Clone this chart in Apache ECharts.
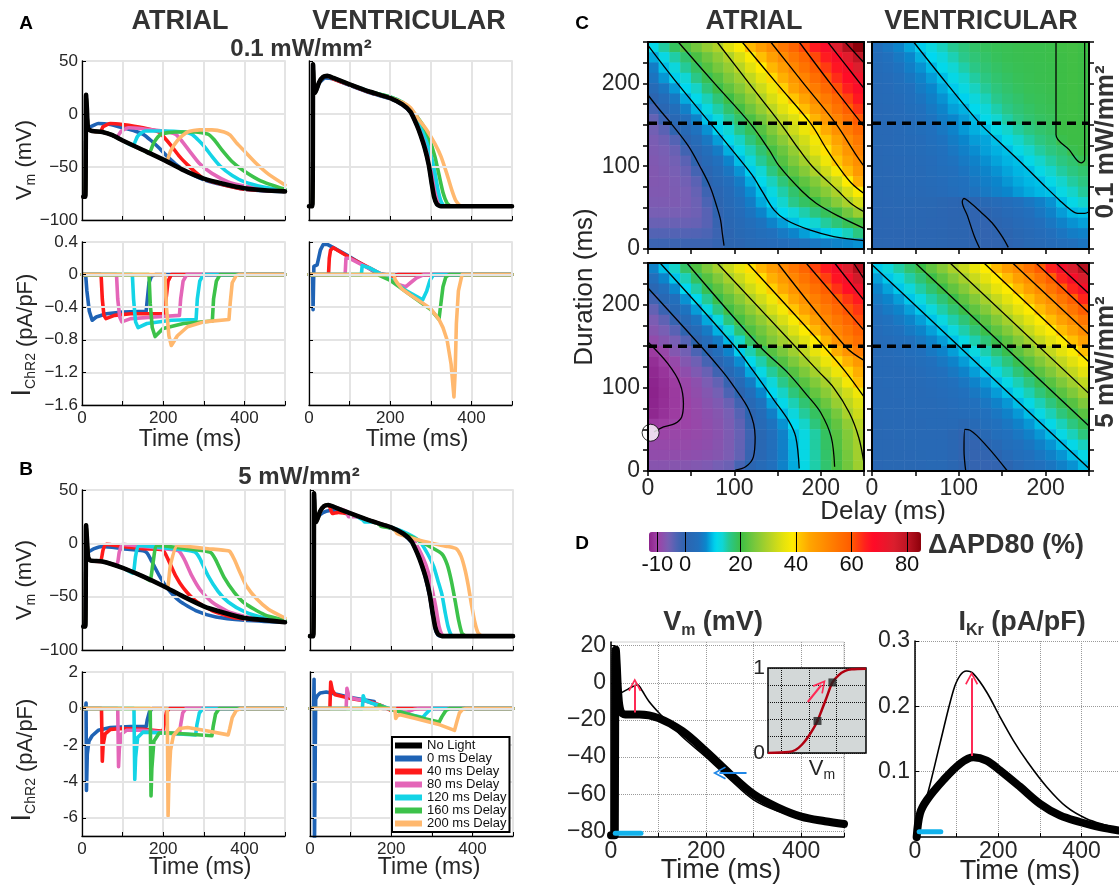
<!DOCTYPE html>
<html><head><meta charset="utf-8"><title>ChR2 APD</title>
<script src="https://cdn.jsdelivr.net/npm/echarts@6/dist/echarts.min.js"></script>
<style>html,body{margin:0;padding:0;background:#fff;}#chart{width:1119px;height:888px;}</style>
</head><body><div id="chart"></div>
<script>
// ================= DATA =================
const legendNames = ['No Light','0 ms Delay','40 ms Delay','80 ms Delay','120 ms Delay','160 ms Delay','200 ms Delay'];

// ---- Panel A: 0.1 mW/mm2 ----
const aVm01Black = [[3,-78],[8,-78],[10,18],[12,5],[15,-14],[25,-16],[50,-17],[75,-20],[100,-25],[150,-34],[200,-43],[250,-53],[300,-61],[350,-66],[400,-70],[450,-72],[500,-73]];
const aVm01Tails = [
 [[12,2],[15,-12],[20,-12],[40,-9],[70,-10],[100,-13],[130,-16],[150,-19],[170,-25],[190,-32],[210,-40],[230,-47],[260,-55],[300,-62],[350,-67],[400,-71],[450,-72.5],[500,-73]],
 [[45,-17],[52,-12],[70,-9],[100,-10],[150,-13],[190,-17],[200,-21],[220,-30],[240,-40],[260,-48],[280,-55],[300,-61],[350,-67],[400,-71],[500,-73]],
 [[85,-22],[97,-16],[115,-13],[150,-14],[200,-16],[230,-19],[245,-25],[265,-35],[290,-47],[320,-56],[360,-64],[400,-68],[450,-71],[500,-73]],
 [[125,-30],[137,-21],[155,-16],[200,-16],[250,-17],[270,-19],[285,-24],[300,-30],[320,-40],[340,-49],[370,-58],[400,-64],[450,-69],[500,-72]],
 [[165,-37],[177,-27],[195,-19],[230,-17],[280,-17],[310,-19],[325,-24],[345,-34],[370,-45],[400,-54],[440,-63],[500,-71]],
 [[208,-45],[218,-35],[237,-24],[260,-17],[290,-15],[320,-15],[350,-17],[365,-20],[380,-27],[400,-35],[430,-47],[460,-57],[500,-67]]
];
const aChR01 = [
 [[0,0],[9,0],[12,-0.2],[18,-0.45],[25,-0.56],[35,-0.52],[60,-0.48],[100,-0.46],[158,-0.45],[161,-0.3],[165,-0.1],[171,-0.02],[180,0],[500,0]],
 [[0,0],[47,0],[50,-0.3],[54,-0.5],[59,-0.54],[80,-0.5],[120,-0.48],[204,-0.48],[207,-0.3],[212,-0.08],[220,0],[500,0]],
 [[0,0],[85,0],[88,-0.3],[93,-0.52],[98,-0.58],[120,-0.54],[180,-0.52],[240,-0.5],[243,-0.3],[249,-0.08],[258,0],[500,0]],
 [[0,0],[124,0],[127,-0.3],[132,-0.58],[138,-0.65],[160,-0.6],[220,-0.56],[281,-0.55],[284,-0.3],[290,-0.08],[299,0],[500,0]],
 [[0,0],[165,0],[168,-0.35],[173,-0.65],[180,-0.76],[200,-0.66],[250,-0.6],[321,-0.57],[324,-0.3],[331,-0.08],[340,0],[500,0]],
 [[0,0],[204,0],[208,-0.4],[214,-0.75],[220,-0.87],[235,-0.75],[260,-0.64],[300,-0.58],[362,-0.55],[365,-0.35],[370,-0.1],[380,-0.01],[388,0],[500,0]]
];
const vVm01Black = [[0,-87],[8,-87],[10,47],[12,25],[15,20],[25,30],[35,35],[45,36],[60,34],[100,28],[150,21],[200,15],[230,9],[250,2],[265,-10],[275,-20],[285,-32],[295,-48],[302,-65],[308,-78],[315,-85],[325,-87],[500,-87]];
const vVm01Tails = [
 [[15,20],[25,29],[40,34],[60,33],[100,27],[150,20],[200,14.5],[230,8.5],[250,1.5],[265,-10],[275,-20],[285,-32],[295,-48],[302,-65],[308,-78],[315,-85],[325,-87],[500,-87]],
 [[50,35],[60,33],[100,27.5],[150,20.5],[200,15],[230,9],[250,2.5],[267,-10],[278,-20],[288,-32],[297,-48],[304,-65],[310,-78],[317,-85],[327,-87],[500,-87]],
 [[90,29],[100,28],[150,21],[200,15.5],[230,10],[250,3],[270,-10],[285,-25],[295,-38],[305,-58],[312,-75],[320,-84],[330,-87],[500,-87]],
 [[130,24],[150,21],[200,16],[230,11],[250,4],[275,-10],[290,-24],[300,-38],[310,-55],[318,-72],[326,-83],[335,-87],[500,-87]],
 [[170,19],[200,16],[230,11],[250,5],[280,-10],[295,-22],[310,-40],[320,-57],[330,-74],[340,-84],[350,-87],[500,-87]],
 [[210,14],[230,11],[250,6],[270,-5],[290,-15],[310,-28],[325,-40],[340,-57],[352,-72],[362,-82],[375,-87],[500,-87]]
];
const vChR01 = [
 [[0,0],[9,0],[10,-0.43],[12,0.1],[20,0.12],[28,0.3],[35,0.37],[45,0.37],[60,0.33],[100,0.22],[140,0.1],[160,0.04],[175,0.01],[190,0],[500,0]],
 [[0,0],[48,0],[50,0.2],[53,0.3],[60,0.33],[100,0.21],[150,0.08],[180,0],[200,-0.03],[210,-0.01],[220,0],[500,0]],
 [[0,0],[89,0],[91,0.2],[100,0.2],[150,0.07],[180,0],[220,-0.12],[238,-0.15],[250,-0.1],[265,-0.04],[283,0],[500,0]],
 [[0,0],[129,0],[131,0.11],[150,0.08],[180,0],[200,-0.05],[240,-0.2],[280,-0.31],[290,-0.2],[298,-0.07],[307,0],[500,0]],
 [[0,0],[169,0],[171,0.02],[200,-0.07],[250,-0.25],[300,-0.43],[320,-0.55],[325,-0.35],[330,-0.15],[337,-0.03],[345,0],[500,0]],
 [[0,0],[209,0],[212,-0.06],[217,-0.1],[230,-0.18],[250,-0.25],[280,-0.35],[300,-0.42],[320,-0.55],[330,-0.65],[340,-0.8],[350,-1.1],[357,-1.5],[360,-1.2],[363,-0.6],[368,-0.2],[377,0],[500,0]]
];

// ---- Panel B: 5 mW/mm2 ----
const aVm5Black = [[3,-78],[8,-78],[10,17],[12,5],[15,-13],[20,-16],[50,-17],[100,-23],[150,-31],[200,-40],[250,-50],[300,-59],[350,-65],[400,-70],[450,-72],[500,-74]];
const aVm5Tails = [
 [[12,0],[15,-8],[30,-5],[50,-3],[100,-5],[150,-7],[160,-9],[172,-17],[190,-30],[210,-42],[240,-54],[280,-63],[330,-69],[400,-72],[500,-74]],
 [[45,-17],[52,-6],[60,-1],[100,-3],[150,-5],[198,-6],[212,-15],[230,-30],[250,-42],[280,-54],[320,-63],[380,-70],[500,-73]],
 [[85,-20],[92,-8],[100,-1],[150,-3],[200,-5],[238,-7],[252,-15],[270,-30],[292,-44],[320,-55],[360,-64],[420,-70],[500,-73]],
 [[125,-28],[132,-12],[140,-2],[200,-4],[250,-6],[278,-8],[290,-14],[310,-30],[335,-45],[360,-55],[400,-64],[450,-70],[500,-73]],
 [[167,-35],[175,-18],[185,-2],[240,-4],[300,-7],[318,-9],[330,-16],[350,-32],[375,-46],[400,-56],[450,-67],[500,-72]],
 [[210,-42],[218,-20],[235,-2],[260,-3],[310,-5],[360,-7],[365,-8],[375,-15],[390,-28],[405,-40],[430,-52],[460,-62],[500,-70]]
];
const aChR5 = [
 [[0,0],[9,0],[10,0.3],[11,-4.5],[13,-2.5],[17,-1.8],[25,-1.5],[40,-1.2],[70,-1.05],[120,-1.0],[158,-1.0],[161,-0.6],[166,-0.2],[173,0],[500,0]],
 [[0,0],[48,0],[50,-2.9],[52,-2.0],[57,-1.4],[70,-1.15],[100,-1.1],[150,-1.15],[200,-1.25],[203,-0.8],[208,-0.2],[215,0],[500,0]],
 [[0,0],[88,0],[90,-3.2],[92,-2.2],[97,-1.4],[110,-1.2],[150,-1.2],[200,-1.3],[240,-1.4],[243,-0.9],[248,-0.25],[256,0],[500,0]],
 [[0,0],[128,0],[130,-3.9],[132,-2.7],[137,-1.6],[150,-1.3],[200,-1.35],[280,-1.45],[283,-0.9],[289,-0.25],[298,0],[500,0]],
 [[0,0],[168,0],[170,-4.8],[172,-3.3],[177,-1.8],[190,-1.35],[220,-1.35],[320,-1.5],[323,-1.0],[329,-0.3],[338,0],[500,0]],
 [[0,0],[210,0],[212,-5.9],[214,-4.0],[218,-2.3],[225,-1.5],[240,-1.1],[260,-1.05],[300,-1.2],[360,-1.45],[364,-1.1],[370,-0.5],[380,-0.1],[392,0],[500,0]]
];
const vVm5Black = [[0,-87],[8,-87],[10,47],[12,25],[15,20],[25,30],[35,35],[45,36],[60,34],[100,28],[150,21],[200,15],[230,9],[250,2],[265,-10],[275,-20],[285,-32],[295,-48],[302,-65],[308,-78],[315,-85],[325,-87],[500,-87]];
const vVm5Tails = [
 [[12,30],[15,22],[25,27],[40,30],[60,31],[100,27],[150,21],[200,14],[230,8],[250,1],[265,-10],[275,-20],[285,-33],[295,-50],[302,-67],[308,-80],[315,-86],[325,-87],[500,-87]],
 [[50,33],[55,28],[70,29],[100,27],[150,21],[200,15],[235,8],[255,0],[270,-12],[282,-25],[292,-42],[300,-60],[308,-75],[316,-85],[328,-87],[500,-87]],
 [[90,30],[95,25],[110,25],[150,21],[200,15],[240,8],[260,0],[280,-15],[292,-28],[302,-45],[310,-60],[318,-78],[326,-86],[338,-87],[500,-87]],
 [[130,22],[135,20],[150,20],[200,15],[240,9],[270,2],[290,-10],[305,-22],[315,-35],[325,-48],[333,-65],[340,-78],[348,-86],[358,-87],[500,-87]],
 [[170,18],[175,16],[200,14],[250,6],[300,-4],[325,-10],[338,-20],[348,-35],[358,-55],[366,-72],[374,-84],[385,-87],[500,-87]],
 [[210,12],[215,9],[250,5],[300,0],[340,-3],[360,-5],[372,-12],[382,-25],[390,-40],[398,-58],[406,-74],[414,-84],[425,-87],[500,-87]]
];
const vChR5 = [
 [[0,0],[9,0],[10,1.6],[11,-7.5],[13,-7.5],[14,0.5],[18,0.7],[25,0.85],[40,0.9],[60,0.8],[100,0.6],[140,0.45],[158,0.38],[162,0.15],[170,0.02],[180,0],[500,0]],
 [[0,0],[49,0],[51,1.45],[55,1.0],[62,0.75],[80,0.65],[100,0.55],[150,0.35],[180,0.12],[198,-0.1],[205,-0.03],[215,0],[500,0]],
 [[0,0],[89,0],[91,1.1],[95,0.75],[105,0.55],[130,0.45],[160,0.25],[190,0.0],[215,-0.15],[238,-0.25],[245,-0.15],[258,-0.04],[270,0],[500,0]],
 [[0,0],[129,0],[131,0.7],[135,0.45],[150,0.3],[170,0.18],[195,0.0],[240,-0.3],[278,-0.5],[285,-0.3],[295,-0.08],[305,0],[500,0]],
 [[0,0],[169,0],[171,0.2],[176,0.1],[195,-0.02],[240,-0.3],[280,-0.55],[318,-0.75],[325,-0.45],[335,-0.1],[345,0],[500,0]],
 [[0,0],[209,0],[211,-0.55],[215,-0.4],[222,-0.35],[260,-0.55],[320,-0.9],[356,-1.2],[362,-0.7],[368,-0.25],[376,-0.05],[385,0],[500,0]]
];
const chr5Ticks = [-6,-4,-2,0,2];

// ---- Panel C: dAPD80 maps (rows from Duration 244 down to 6; columns Delay 6..244, step 12.5 ms) ----
const hmA01 = [
 [11.7,15.3,18.6,21.8,24.6,27.5,30,34.8,38.6,42.7,46.4,50.3,54,57.9,61.5,65.5,69,75,81,85],
 [9,12.2,15.1,17.8,21.2,24.2,27,30,34,38.3,42,46.3,50,54,57.6,61.5,65.5,69.4,74,79.5],
 [6.5,9.9,12.8,15.6,18.5,21.9,24.8,27.6,30.9,35,39,43,46.6,51,55,59,62.6,66.4,70,75],
 [5.5,8.2,10.6,13.5,16.3,19.3,22.2,25.4,28.3,31.8,35.7,40,43.8,47.8,51.8,56,60,63.8,67.7,71],
 [2.8,5.7,8.3,11.2,14,17,19.9,23,26,29.3,32.9,36.8,40.6,45.4,49.6,53.2,57,61,65,69],
 [0.5,3.4,6,9,11.6,14.5,17.3,20.1,23.3,26.8,30,34,37.6,41.5,45.5,50,53.7,57.5,62,66],
 [-2.3,1.3,4,6.8,9.5,12.3,15,17.9,20.7,24.2,27.5,31.2,35,38.5,42.3,46.7,50.7,55,59,63],
 [-4.6,-1.4,1.7,4.4,7.2,10,12.7,15.4,18.1,21.2,24.5,28.2,31.7,34.6,38.8,43.3,47.5,51.7,55.7,60],
 [-5.6,-4,-0.3,2.5,5.2,8,10.7,13.5,16.2,19,22.1,25.7,29.3,33,36.5,40.2,44.4,49,53.2,57],
 [-6.2,-5.3,-3.5,0.4,3.1,5.9,8.5,11.3,14,16.9,19.7,23.3,26.6,30.3,33.5,37.4,41.2,45.5,50,54],
 [-6.5,-6,-4.9,-2,1.3,3.9,6.4,9.2,11.9,14.6,17.5,20.8,23.9,27.4,31.6,35.6,39.5,43.4,48,52],
 [-6.8,-6.3,-5.6,-4,-0.3,2.4,4.8,7.3,9.8,12.8,15.6,18.6,22.1,25.5,28.8,32.3,36.9,41.2,45.2,49.5],
 [-7,-6.5,-6,-4.9,-2.3,1.1,3.3,5.7,8.1,10.5,13.5,16.6,19.8,23,26.2,29.5,33.3,37.9,42.5,47.5],
 [-7,-6.8,-6.3,-5.5,-4,0,2,4.2,6.4,9.1,11.4,14.3,17.1,20.1,22.9,25.9,29.4,32.9,38.8,44],
 [-6.8,-6.8,-6.4,-6,-4.7,-1.7,1,3.2,5.5,7.8,9.9,12.4,15,17.8,20.4,23.6,26.4,29.5,33.9,38.5],
 [-6.5,-6.5,-6.5,-6.1,-5.2,-3,0.4,2.4,4.4,6.5,8.9,10.7,13.7,16.1,18.4,20,23.1,26.3,29.3,33.5],
 [-6,-6,-6,-5.8,-5.3,-3.8,-0.3,1.7,3.6,5.5,7.3,9.2,11,13.1,14.9,16.8,18.9,20.8,24.4,28.1],
 [-5,-5,-5,-5,-4.8,-3.8,-1,1.2,2.6,4,5.4,7.1,8.5,10,11.8,13.6,15.4,17.2,19.1,21],
 [-3.5,-3.5,-3.5,-3.5,-3.4,-3,-1.4,0.7,1.8,2.8,3.9,5,6.1,7.3,8.5,9.6,10.6,12.2,14.3,16.6],
 [-1.5,-1.5,-1.5,-1.5,-1.5,-1.5,-0.8,0.5,1.1,1.8,2.5,3.2,3.8,4.5,5.2,5.8,6.5,7.1,7.6,8]
];
const hmV01 = [
 [4.5,5.8,7.2,8.8,10.5,12.6,14.3,15.8,17,18,18.7,19.1,19.3,19.5,19.6,19.6,19.7,20.3,20.6,20.2],
 [3.8,4.8,6,7.5,9.2,11,12.9,14.6,16.1,17.3,18.1,18.8,19.2,19.4,19.5,19.6,19.7,20.2,20.5,20.1],
 [3.3,4.2,5.3,6.6,8,9.6,11.5,13.5,15,16.4,17.5,18.3,18.9,19.2,19.4,19.5,19.6,20.1,20.4,20.1],
 [2.9,3.6,4.6,5.7,7,8.4,9.9,12,13.8,15.3,16.6,17.7,18.4,19,19.3,19.5,19.6,20.1,20.4,20.1],
 [2.6,3.2,4,5,6.2,7.5,8.9,10.4,12.4,14.2,15.6,17,17.9,18.6,19.1,19.3,19.5,20.1,20.4,20.1],
 [2.4,2.9,3.6,4.4,5.5,6.7,8,9.4,10.7,12.9,14.4,16,17.2,18,18.8,19.1,19.4,20.1,20.4,20.1],
 [2.2,2.6,3.2,4,4.9,6,7.2,8.6,9.3,11.3,13.2,14.9,16.3,17.4,18.2,18.9,19.2,20.05,20.35,20.1],
 [2,2.4,2.9,3.6,4.4,5.4,6.5,7.5,8.4,9.7,11.7,13.6,15.1,16.5,17.6,18.4,18.9,20.05,20.3,20.1],
 [1.9,2.2,2.7,3.3,4,4.9,5.9,7.1,8.3,9.2,9.9,12,13.8,15.3,16.6,17.7,18.4,20,20.2,20.05],
 [1.8,2,2.5,3,3.6,4.4,5.3,6.4,7.5,8.4,8.8,9.9,11.9,13.8,15.2,16.6,17.7,19.6,20.1,20.05],
 [1.7,1.9,2.3,2.8,3.3,4,4.8,5.8,6.8,7.8,8.6,9.3,9.9,12,13.8,15.3,16.6,17.7,19.5,20],
 [1.6,1.8,2.1,2.5,3,3.6,4.4,5.2,6.1,7,7.9,8.7,9.4,9.9,11.9,13.8,15.2,16.6,17.7,19.2],
 [1.5,1.7,2,2.3,2.7,3.3,4,4.7,5.5,6.4,7.2,8,8.8,9.5,9.9,12,13.8,15.3,16.6,17.7],
 [1.4,1.6,1.8,2.1,2.5,3,3.6,4.3,5,5.8,6.6,7.4,8.2,9,9.6,10,11.9,13.8,15.3,16.6],
 [1.3,1.5,1.7,1.9,2.2,2.7,3.2,3.8,4.5,5.2,6,6.8,7.5,8.3,9,9.6,10,12.2,13.9,15.5],
 [1.2,1.3,1.4,1.5,1.5,1.4,1.2,1,0.6,1,1.8,2.8,3.8,4.8,5.8,6.8,8,9.9,11.9,13.8],
 [1.1,1.2,1.3,1.3,1.3,1.2,1,0.7,0.3,-0.3,0.2,1.3,2.4,3.5,4.6,5.8,7,8.4,9.6,10],
 [1,1.1,1.2,1.2,1.2,1.1,0.9,0.6,0.3,-0.3,-0.4,0.3,1.3,2.4,3.5,4.6,5.8,7,8,8.6],
 [0.9,1,1.1,1.1,1.1,1,0.8,0.6,0.3,-0.2,-0.5,-0.2,0.6,1.6,2.6,3.6,4.6,5.6,6.5,7],
 [0.8,0.9,1,1,1,0.9,0.8,0.6,0.3,0,-0.4,-0.4,0.1,1,1.8,2.6,3.4,4.2,5,5.6]
];
const hmA5 = [
 [7,10,13.9,18.1,21.7,25.4,29,32.5,36,39.7,43.2,46.9,50.4,54.3,57.9,61.8,65.5,69.5,74.9,81],
 [4.4,7.4,10.2,14.5,18.4,22.2,25.6,29.2,32.6,36.3,39.8,43.7,47.3,51.2,54.8,58.6,62.3,66.6,70.3,76.9],
 [1.3,4.5,7.6,11.1,15.1,19.3,22.7,26.2,29.5,33.2,36.8,40.6,44.4,48.4,52,55.6,59.2,63.4,67.3,71.5],
 [-2,1.7,4.7,8,11.3,15.7,19.7,23.2,26.4,29.8,33.3,37.1,40.7,44.9,48.9,52.7,56.2,59.9,62.9,65.6],
 [-4.6,-1.3,2.1,5.4,8.4,12.3,16.4,20.5,23.6,27,30.2,34,37.6,41.4,45.7,50,53.5,57.1,60.5,63],
 [-6.3,-4.3,-1,2.5,5.6,8.9,12.6,17,20.8,24.1,27.2,30.5,34.1,38,41.9,46.5,50.8,54.3,57.7,61.1],
 [-7.3,-6,-3.9,-0.2,2.9,6.2,9.3,13.5,17.6,21.5,24.5,27.7,30.8,34.7,38.5,42.9,47.4,51.6,54.9,58.4],
 [-8.5,-7.2,-6,-3.6,0,3.4,6.4,9.7,13.8,18.3,22.4,25.6,28.6,31.3,35,38.9,43.3,48.4,52.5,55.8],
 [-10.6,-9.2,-7.1,-5.5,-3,0.8,3.9,7.3,10.5,14.7,18.7,22.2,25.2,28.4,31.7,35.7,39.4,44,48.4,53],
 [-11.8,-10.3,-9,-7,-5.3,-2.5,1.1,4.6,7.8,11.4,14.9,18.7,22,25.3,28.4,32.3,36.3,40,43.5,47.5],
 [-12.4,-11.2,-9.6,-8.2,-6.6,-4.9,-1.9,2,5.4,9,12.2,15.5,18.7,22.2,25.4,28.9,32.6,36.6,40.3,44],
 [-12.8,-11.8,-10.5,-9.3,-8,-6.3,-4.5,-1,2.6,6.4,9.8,13.1,16.1,19.3,22.4,25.8,29.1,32.5,37.5,42],
 [-13,-12,-10.7,-9.5,-8.4,-7.1,-5.7,-3,0.6,4.2,7.5,11,14,17,19.8,23.3,26.6,30,33.3,37],
 [-12.8,-11.8,-10.7,-9.7,-8.8,-7.6,-6.6,-4.9,-1.9,1.9,5.2,8.7,11.7,14.6,17.5,20.6,24,27.8,31.3,34.5],
 [-12.5,-11.5,-10.5,-9.8,-9,-8.1,-7.3,-5.9,-3.6,0.3,3.3,6.7,9.7,12.8,15.5,18.5,21.3,24.8,29.3,33],
 [-10.8,-10.4,-9.8,-9.6,-9.1,-8.3,-7.5,-6.2,-4.3,-0.6,2.4,5.4,8,11,13.9,17,20,23.2,27.2,31],
 [-9.6,-9.5,-9.3,-9.2,-8.9,-8.4,-7.7,-6.5,-4.8,-1.6,1.5,4.4,7,9.8,12.4,15.2,18.5,22.2,25.9,29.5],
 [-9,-9,-9,-8.9,-8.6,-8.2,-7.5,-6.4,-4.6,-1.3,1.6,4.3,6.8,9.4,12.2,15.3,18.3,21.8,25.5,29],
 [-8.5,-8.5,-8.4,-8.3,-8.1,-7.7,-7.2,-6.3,-4.5,-1,1.7,4.3,6.7,9.2,12.1,15.1,18,21.2,24.8,28.7],
 [-7.5,-7.5,-7.4,-7.3,-7,-6.6,-5.8,-5.1,-2.5,0.8,2.8,5,7,9,12.1,15,17.7,20.9,24.5,28.3]
];
const hmV5 = [
 [10.4,12.9,15.2,17.7,20,23.2,26.2,29.5,32.5,35.9,38.9,42.7,46.7,50.3,54.8,59.6,64.7,70.4,75.6,81],
 [8.6,10.3,12.6,15.1,17.4,19.9,22.9,26.1,29.1,32.5,35.5,38.9,42.3,46.2,49.9,54.7,59.1,64.6,69.8,75.5],
 [7.3,8.7,10.3,12.8,15.1,17.6,19.9,23.1,26.1,29.4,32.4,35.7,38.8,42.5,46.2,50.1,54.6,59.4,64.5,70.2],
 [6.1,7.3,8.5,10.2,12.5,15,17.3,19.8,22.8,26,29,32.3,35.4,38.7,42.1,46.1,49.7,54.5,58.9,64.4],
 [5.1,6.1,7.2,8.6,10.2,12.7,15,17.5,19.8,23,26,29.2,32.3,35.6,38.7,42.4,46,50,54.4,59.2],
 [4.2,5.1,6,7.2,8.5,10.1,12.4,14.9,17.2,19.7,22.6,25.9,28.9,32.2,35.3,38.6,42,45.9,49.6,54.3],
 [3.4,4.3,5.1,6.1,7.2,8.6,10.1,12.6,14.9,17.4,19.7,22.9,25.9,29.1,32.2,35.6,38.6,42.2,45.9,49.8],
 [3,3.4,4.2,5,5.9,7.1,8.4,10,12.3,14.8,17.1,19.6,22.5,25.8,28.8,32,35.1,38.5,41.8,45.8],
 [2.6,3,3.4,4.2,5,6,7.1,8.5,10,12.5,14.8,17.3,19.6,22.7,25.7,29,32,35.4,38.4,42.1],
 [2.4,2.6,3,3.4,4.1,5,5.9,7.1,8.4,10,12.2,14.7,17,19.5,22.4,25.7,28.7,31.9,35,38.3],
 [2.3,2.4,2.6,3,3.4,4.2,5,5.9,7.1,8.5,10,12.4,14.7,17.2,19.5,22.6,25.6,28.9,31.9,35.2],
 [2.1,2.3,2.4,2.6,3,3.4,4.1,4.9,5.8,7.1,8.3,9.9,12.1,14.6,16.9,19.4,22.3,25.5,28.5,31.8],
 [2,2.1,2.3,2.4,2.6,3,3.4,4.1,4.9,5.9,7,8.4,9.9,12.2,14.6,17.1,19.4,22.5,25.5,28.7],
 [1.9,2,2.1,2.3,2.4,2.6,2.9,3.4,4.1,4.9,5.8,7,8.2,9.8,12,14.5,16.8,19.4,22.2,25.5],
 [1.8,1.9,2,2.1,2.3,2.4,2.6,2.9,3.3,4,4.9,5.8,7,8.3,9.8,12.2,14.5,17,19.3,22.4],
 [1.7,1.8,1.9,2,2.1,2.3,2.4,2.3,1.6,2.6,4,4.9,5.8,7,8.2,9.8,11.9,14.4,16.7,19.2],
 [1.6,1.7,1.8,1.9,2,2.1,2.2,1.2,-0.3,0.3,1.8,4.1,4.9,5.8,6.9,8.2,9.7,12.1,14.4,16.9],
 [1.5,1.6,1.7,1.8,1.9,2,2,1.3,-0.4,-0.6,0.3,2.2,4,4.9,5.7,6.9,8.1,9.7,11.8,14.3],
 [1.4,1.5,1.6,1.7,1.8,1.9,1.9,1.3,-0.4,-0.7,-0.5,0.6,2.6,4,4.9,5.8,6.9,8.1,9.7,11.9],
 [1.3,1.4,1.5,1.6,1.7,1.8,1.8,1.2,-0.2,-0.7,-0.8,-0.6,0.5,2.4,4,4.9,5.7,6.9,8,9.6]
];
// contour lines [delay, duration]
const cA01 = [
 [[0,186],[12,170],[28,150],[47,124],[60,100],[72,75],[80,50],[84,35],[86,19],[88,4]],
 [[0,246],[34,200],[72,152],[97,120],[120,90],[132,70],[146,47],[160,35],[187,23],[215,15],[250,10]],
 [[35,250],[77,200],[118,152],[140,120],[152,100],[178,70],[195,55],[220,40],[250,25]],
 [[80,250],[117,200],[153,152],[175,120],[190,100],[220,70],[235,55],[250,45]],
 [[109,250],[149,200],[188,152],[207,120],[220,100],[235,80],[250,67]],
 [[142,250],[180,200],[217,152],[240,115],[250,100]],
 [[175,250],[211,200],[247,152],[250,148]],
 [[208,250],[229,222],[250,194]],
 [[228,250],[250,225]]
];
const cV01 = [
 [[48,250],[86,200],[124,152],[150,126],[176,100],[200,75],[216,59],[228,48],[237,43],[245,43],[250,45]],
 [[212,250],[212,138],[227,120],[241,104],[245,108],[245,250]],
 [[124,1],[118,15],[110,40],[104,57],[106,61],[112,57],[125,45],[138,32],[150,15],[157,2]]
];
const cA5 = [
 [[0,155],[23,129],[37,105],[41,81],[39,65],[31,57],[18,53],[7,47]],
 [[0,220],[62,149],[86,120],[97,105],[117,73],[124,41],[122,17],[113,5],[101,1]],
 [[14,250],[101,149],[122,120],[146,85],[163,60],[171,41],[175,3]],
 [[45,250],[130,149],[160,120],[185,90],[200,70],[212,41],[216,5]],
 [[80,250],[171,149],[197,120],[215,100],[233,70],[244,40],[250,9]],
 [[115,250],[204,149],[228,120],[250,89]],
 [[150,250],[229,149],[250,133]],
 [[183,250],[250,169]],
 [[216,250],[250,205]],
 [[238,250],[250,231]]
];
const cV5 = [
 [[108,0],[106,25],[107,50],[113,49],[133,29],[156,0]],
 [[1,247],[250,3]],
 [[50,250],[250,54]],
 [[90,250],[250,93]],
 [[129,250],[250,131]],
 [[162,250],[250,164]],
 [[189,250],[250,190]],
 [[212,250],[250,213]],
 [[235,250],[250,235]]
];
const dashedDuration = [152,152,150,150];
const circlePt = [[3,46]];
const cbTicks = [-10,0,20,40,60,80];

// ---- Panel D ----
const dVmThick = [[0,-82],[8,-82],[9,10],[10,18],[12,10],[15,-5],[20,-15],[30,-17],[60,-17],[100,-19],[150,-26],[200,-37],[250,-49],[300,-60],[350,-67],[400,-72],[450,-74.5],[490,-76]];
const dVmThin = [[0,-82],[8,-82],[9,10],[10,18],[12,10],[15,-2],[18,-6],[20,-5.5],[35,-3.5],[50,-1.5],[56,-1],[65,-4],[80,-10],[104,-17],[120,-21],[150,-29],[200,-40],[250,-52],[300,-63],[350,-69],[400,-72.5],[450,-75],[490,-76]];
const dVmLight = [[9,-81],[63,-81]];
const dVmUpArrow = [[50,-16],[50,-1]];
const dVmLeftArrow = [[285,-48.5],[228,-48.5]];
const dVmTicks = [-80,-60,-40,-20,0,20];
const dIkrThick = [[4,0],[12,0.036],[28,0.056],[68,0.087],[108,0.112],[140,0.122],[172,0.117],[204,0.102],[252,0.077],[300,0.051],[348,0.033],[396,0.023],[444,0.015],[490,0.01]];
const dIkrThin = [[4,0],[12,0.036],[28,0.061],[60,0.143],[92,0.224],[108,0.247],[124,0.254],[140,0.25],[172,0.222],[204,0.184],[236,0.148],[268,0.117],[316,0.077],[364,0.046],[412,0.028],[460,0.018],[490,0.013]];
const dIkrLight = [[10,0.008],[62,0.008]];
const dIkrArrow = [[136,0.124],[136,0.243]];
const ikrTicks = [0.1,0.2,0.3];
const insetCurve = [[-100,0],[-70,0.012],[-60,0.035],[-50.6,0.097],[-41,0.195],[-33.6,0.29],[-27.8,0.377],[-21.5,0.506],[-14.2,0.66],[-6,0.83],[2.8,0.914],[12.5,0.965],[22,0.984],[43,0.992]];
const insetMarks = [[-27.8,0.377],[-6,0.83]];
const insetArrow = [[-42,0.6],[-22,0.8]];
const insetXTicks = [-80,-40,0];

// ================= STYLE =================
const FONT = '"Liberation Sans", Arial, Helvetica, sans-serif';
const TXT = '#262626';
const COLORS = ['#1f63b5','#ff1a1a','#e466b8','#14d4e6','#3cc24a','#ffb86e'];
const cmapStops = [[-13,'#8c238c'],[-10,'#a041a5'],[-6,'#785fb4'],[-3,'#4b64b4'],[0,'#2d64af'],[5,'#2170bd'],[7.5,'#0a86cc'],[9.5,'#00b6e3'],[11,'#00d8f0'],[13.5,'#10d6d4'],[16,'#28c88c'],[20,'#3cbe46'],[25,'#78c83c'],[30,'#afd228'],[35,'#e1e10f'],[39,'#ffeb00'],[41,'#ffc800'],[45,'#ffa500'],[52,'#ff8200'],[60,'#ff5a00'],[65,'#ff1e1e'],[68,'#ff0a28'],[75,'#dc1e2d'],[80,'#be1423'],[85,'#8c000a']];
function hex2rgb(h){return [parseInt(h.slice(1,3),16),parseInt(h.slice(3,5),16),parseInt(h.slice(5,7),16)];}
function cmapAt(v){
  for (let i=0;i<cmapStops.length-1;i++){
    const v0=cmapStops[i][0], v1=cmapStops[i+1][0];
    if (v<=v1){ const t=(v-v0)/(v1-v0); const a=hex2rgb(cmapStops[i][1]), b=hex2rgb(cmapStops[i+1][1]);
      return 'rgb('+a.map((x,k)=>Math.round(x+(b[k]-x)*t)).join(',')+')'; }
  }
  return cmapStops[cmapStops.length-1][1];
}
const cmap=[]; for (let v=-13; v<=85.001; v+=0.5) cmap.push(cmapAt(v));

const fmtM = v => { const r=Math.round(v*100)/100; return r<0 ? '\u2212'+Math.abs(r) : String(r); };
const fmtH = v => String(Math.round(v*100)/100);

function joinBlack(black, tail){ const t0=tail[0][0]; return black.filter(p=>p[0]<t0).concat(tail); }
function hmData(rows){ const out=[]; rows.forEach((row,r)=>row.forEach((v,c)=>out.push([c, rows.length-1-r, v]))); return out; }

// ================= LAYOUT =================
const G=[], X=[], Y=[];
function grid(l,t,w,h,extra){ return Object.assign({left:l,top:t,width:w,height:h,containLabel:false,outerBoundsMode:'none',show:false}, extra||{}); }
const lineRects = [[82,61,203,159],[309,61,203,159],[82,242,203,163],[309,242,203,163],[82,490,203,160],[310,490,203,160],[82,672,203,164],[310,672,203,164]];
lineRects.forEach(r=>G.push(grid(r[0],r[1],r[2],r[3],{show:true,borderColor:'#dcdcdc',borderWidth:1.5})));
const hmRects = [[648,42,216,207],[872,42,217,207],[648,263,216,208],[872,263,217,208]];
hmRects.forEach(r=>G.push(grid(r[0],r[1],r[2],r[3])));   // 8-11 category
hmRects.forEach(r=>G.push(grid(r[0],r[1],r[2],r[3])));   // 12-15 overlay
G.push(grid(649,532,272,20));                              // 16 colorbar ticks
G.push(grid(611,642,233,195,{show:true,borderColor:'#d0d0d0',borderWidth:1}));  // 17 Vm
G.push(grid(915,641,204,196));                             // 18 IKr
G.push(grid(768,668,98,85,{show:true,backgroundColor:'#d3d8d8',borderColor:'#000',borderWidth:1.5,z:3})); // 19 inset

const yCfg = [
 {min:-100,max:50,interval:50,fmt:fmtM},{min:-100,max:50,interval:50},
 {min:-1.6,max:0.4,interval:0.4,fmt:fmtM},{min:-1.6,max:0.4,interval:0.4},
 {min:-100,max:50,interval:50,fmt:fmtM},{min:-100,max:50,interval:50},
 {min:-7,max:2,custom:chr5Ticks,fmt:fmtH},{min:-7,max:2,custom:chr5Ticks}];
for (let g=0; g<8; g++){
  const showX = (g===2||g===3||g===6||g===7);
  X.push({type:'value',gridIndex:g,min:0,max:500,interval:100,z:3,
    axisLine:{onZero:false,lineStyle:{color:'#000',width:1.3}},
    axisTick:{inside:true,length:4,lineStyle:{color:'#000',width:1}},
    axisLabel:{show:showX,fontSize:17,color:TXT,fontFamily:FONT,margin:5,formatter:v=>(v%200===0?String(v):'')},
    splitLine:{show:true,lineStyle:{color:'#e4e4e4',width:2}}});
  const c=yCfg[g], showY=(g%2===0);
  const ya={type:'value',gridIndex:g,min:c.min,max:c.max,z:3,
    axisLine:{onZero:false,lineStyle:{color:'#000',width:1.3}},
    axisTick:{inside:true,length:4,lineStyle:{color:'#000',width:1}},
    axisLabel:{show:showY,fontSize:17,color:TXT,fontFamily:FONT,margin:4,formatter:c.fmt||fmtM},
    splitLine:{show:true,lineStyle:{color:'#e4e4e4',width:2}}};
  if (c.interval) ya.interval=c.interval;
  if (c.custom){ ya.axisTick.customValues=c.custom; ya.axisLabel.customValues=c.custom; }
  Y.push(ya);
}
const cats=[]; for(let i=0;i<20;i++) cats.push(i);
for (let i=0;i<4;i++){
  X.push({type:'category',gridIndex:8+i,data:cats,show:false});
  Y.push({type:'category',gridIndex:8+i,data:cats,show:false});
}
for (let i=0;i<4;i++){
  const bottom=(i>=2), left=(i%2===0);
  X.push({type:'value',gridIndex:12+i,min:0,max:250,interval:50,z:10,
    axisLine:{onZero:false,lineStyle:{color:'#000',width:2}},
    axisTick:{length:5,lineStyle:{color:'#000',width:1.5}},
    axisLabel:{show:bottom,fontSize:23,color:TXT,fontFamily:FONT,margin:6,formatter:v=>(v%100===0?String(v):'')},
    splitLine:{show:false}});
  Y.push({type:'value',gridIndex:12+i,min:0,max:250,interval:25,z:10,
    axisLine:{onZero:false,lineStyle:{color:'#000',width:2}},
    axisTick:{length:5,lineStyle:{color:'#000',width:1.5}},
    axisLabel:{show:left,fontSize:23,color:TXT,fontFamily:FONT,margin:8,formatter:v=>(v%100===0?String(v):'')},
    splitLine:{show:false}});
}
// 16 colorbar
X.push({type:'value',gridIndex:16,min:-13,max:85,z:10,axisLine:{show:false},
  axisTick:{show:true,inside:true,length:20,customValues:cbTicks,lineStyle:{color:'#000',width:1}},
  axisLabel:{customValues:cbTicks,fontSize:22,color:'#111',fontFamily:FONT,margin:2},splitLine:{show:false}});
Y.push({type:'value',gridIndex:16,min:0,max:1,show:false});
// 17 Vm
X.push({type:'value',gridIndex:17,min:0,max:490,interval:100,z:1,
  axisLine:{onZero:false,lineStyle:{color:'#000',width:1.5}},axisTick:{inside:true,length:4,lineStyle:{color:'#000'}},
  axisLabel:{fontSize:23,color:TXT,fontFamily:FONT,margin:3,formatter:v=>(v%200===0?String(v):'')},
  splitLine:{show:true,lineStyle:{color:'#9a9a9a',width:1,type:'dotted'}}});
Y.push({type:'value',gridIndex:17,min:-83,max:22,z:1,
  axisLine:{onZero:false,lineStyle:{color:'#000',width:1.5}},axisTick:{inside:true,length:4,customValues:dVmTicks,lineStyle:{color:'#000'}},
  axisLabel:{customValues:dVmTicks,fontSize:23,color:TXT,fontFamily:FONT,margin:5,formatter:fmtM},
  splitLine:{show:true,lineStyle:{color:'#9a9a9a',width:1,type:'dotted'}}});
// 18 IKr
X.push({type:'value',gridIndex:18,min:0,max:490,interval:100,z:1,
  axisLine:{onZero:false,lineStyle:{color:'#000',width:1.5}},axisTick:{inside:true,length:4,lineStyle:{color:'#000'}},
  axisLabel:{fontSize:23,color:TXT,fontFamily:FONT,margin:3,formatter:v=>(v%200===0?String(v):'')},
  splitLine:{show:true,lineStyle:{color:'#9a9a9a',width:1,type:'dotted'}}});
Y.push({type:'value',gridIndex:18,min:0,max:0.3,z:1,
  axisLine:{onZero:false,lineStyle:{color:'#000',width:1.5}},axisTick:{inside:true,length:4,customValues:ikrTicks,lineStyle:{color:'#000'}},
  axisLabel:{customValues:ikrTicks,fontSize:23,color:TXT,fontFamily:FONT,margin:5,formatter:fmtH},
  splitLine:{show:true,lineStyle:{color:'#9a9a9a',width:1,type:'dotted'}}});
// 19 inset
X.push({type:'value',gridIndex:19,min:-100,max:43,z:4,axisLine:{show:false},
  axisTick:{show:false,customValues:insetXTicks},axisLabel:{show:false},
  splitLine:{show:true,lineStyle:{color:'#111',width:1,type:'dotted'}}});
Y.push({type:'value',gridIndex:19,min:0,max:1,interval:0.2,z:4,axisLine:{show:false},axisTick:{show:false},
  axisLabel:{fontSize:21,color:TXT,fontFamily:FONT,margin:3,formatter:v=>(Math.abs(v)<1e-6?'0':(Math.abs(v-1)<1e-6?'1':''))},
  splitLine:{show:true,lineStyle:{color:'#111',width:1,type:'dotted'}}});
// 20-23 top / right frame axes for heat maps
for (let i=0;i<4;i++){
  X.push({type:'value',gridIndex:12+i,position:'top',min:0,max:250,z:10,axisLine:{onZero:false,lineStyle:{color:'#000',width:2}},axisTick:{show:false},axisLabel:{show:false},splitLine:{show:false}});
  Y.push({type:'value',gridIndex:12+i,position:'right',min:0,max:250,interval:25,z:10,axisLine:{onZero:false,lineStyle:{color:'#000',width:2}},
    axisTick:{show:(i%2===1),length:5,lineStyle:{color:'#000',width:1.5}},axisLabel:{show:false},splitLine:{show:false}});
}

// ================= SERIES =================
const series=[], hmIdx=[];
function addLine(g, data, color, width, name, z, smooth){
  const s={type:'line',xAxisIndex:g,yAxisIndex:g,data:data,color:color,symbol:'none',showSymbol:false,
    lineStyle:{width:width,color:color,join:'round',cap:'round'},smooth:smooth||false,z:z||2,silent:true};
  if (name) s.name=name;
  series.push(s);
}
function vmPanel(g, black, tails){
  tails.forEach((t,i)=>addLine(g, joinBlack(black,t), COLORS[i], 3.6, legendNames[i+1], 2, 0.2));
  addLine(g, black, '#000', 4.6, legendNames[0], 3, 0.2);
}
function chrPanel(g, arrs){ arrs.forEach((a,i)=>addLine(g, a, COLORS[i], 3.6, legendNames[i+1], 2, false)); }
vmPanel(0, aVm01Black, aVm01Tails);
vmPanel(1, vVm01Black, vVm01Tails);
chrPanel(2, aChR01);
chrPanel(3, vChR01);
vmPanel(4, aVm5Black, aVm5Tails);
vmPanel(5, vVm5Black, vVm5Tails);
chrPanel(6, aChR5);
chrPanel(7, vChR5);

[hmA01,hmV01,hmA5,hmV5].forEach((rows,i)=>{
  hmIdx.push(series.length);
  series.push({type:'heatmap',xAxisIndex:8+i,yAxisIndex:8+i,data:hmData(rows),z:1,silent:true,emphasis:{disabled:true},progressive:0});
});
[cA01,cV01,cA5,cV5].forEach((lines,i)=>lines.forEach(l=>series.push({type:'line',xAxisIndex:12+i,yAxisIndex:12+i,data:l,symbol:'none',showSymbol:false,
  smooth:0.35,lineStyle:{color:'#000',width:1.3},color:'#000',z:4,silent:true})));
dashedDuration.forEach((u,i)=>series.push({type:'line',xAxisIndex:12+i,yAxisIndex:12+i,data:[[0,u],[250,u]],symbol:'none',showSymbol:false,
  lineStyle:{color:'#000',width:3.5,type:[9,6]},color:'#000',z:5,silent:true}));
series.push({type:'scatter',xAxisIndex:14,yAxisIndex:14,data:circlePt,symbolSize:17,itemStyle:{color:'#fff',borderColor:'#000',borderWidth:1},z:6,silent:true});

// Panel D
addLine(17, dVmThick, '#000', 8, null, 2, 0.35);
addLine(17, dVmThin, '#000', 1.6, null, 3, 0.35);
addLine(17, dVmLight, '#12b2ec', 5, null, 4, false);
addLine(18, dIkrThick, '#000', 8, null, 2, 0.35);
addLine(18, dIkrThin, '#000', 1.6, null, 3, 0.35);
addLine(18, dIkrLight, '#12b2ec', 5, null, 4, false);
const chevron = 'path://M0,0 L-9,14 L-7,15 L0,4 L7,15 L9,14 Z';
function arrow(g, coords, color, z){
  series.push({type:'lines',coordinateSystem:'cartesian2d',xAxisIndex:g,yAxisIndex:g,data:[{coords:coords}],
    symbol:['none',chevron],symbolSize:13,lineStyle:{color:color,width:2,opacity:1,curveness:0},z:z||6,silent:true,animation:false});
}
arrow(17, dVmUpArrow, '#ff2a55');
arrow(17, dVmLeftArrow, '#1f86e6');
arrow(18, dIkrArrow, '#ff2a55');
series.push({type:'line',xAxisIndex:19,yAxisIndex:19,data:insetCurve,symbol:'none',showSymbol:false,smooth:0.3,
  lineStyle:{color:'#b00010',width:2.5},color:'#b00010',z:6,silent:true});
series.push({type:'scatter',xAxisIndex:19,yAxisIndex:19,data:insetMarks,symbol:'rect',symbolSize:8,itemStyle:{color:'#222'},z:7,silent:true});
arrow(19, insetArrow, '#ff2a55', 8);

// ================= TEXT =================
function T(x,y,text,size,o){ o=o||{};
  return {type:'text',x:x,y:y,rotation:o.rot||0,z:100,silent:true,
    style:{text:text,font:(o.bold?'bold ':'')+size+'px '+FONT,fill:o.color||TXT,
      align:o.align||'center',textAlign:o.align||'center',verticalAlign:'middle',textVerticalAlign:'middle'}};
}
function R(x,y,parts,o){ o=o||{}; const rich={}; let str='';
  parts.forEach((p,i)=>{ const k='t'+i; str+='{'+k+'|'+p[0]+'}';
    rich[k]={fontSize:p[1],fontFamily:FONT,fontWeight:o.bold?'bold':'normal',fill:o.color||TXT,color:o.color||TXT,
      lineHeight:p[1],verticalAlign:'bottom',padding:p[2]?[0,0,0,0]:[0,0,Math.round(p[1]*0.09),0]}; });
  return {type:'text',x:x,y:y,rotation:o.rot||0,z:100,silent:true,
    style:{text:str,rich:rich,align:'center',textAlign:'center',verticalAlign:'middle',textVerticalAlign:'middle'}};
}
const ROT = Math.PI/2;
const graphics = [
  T(26,24,'A',19,{bold:1,color:'#000'}),
  T(180,22,'ATRIAL',27,{bold:1,color:'#333'}),
  T(409,22,'VENTRICULAR',27,{bold:1,color:'#333'}),
  T(301,49,'0.1 mW/mm\u00b2',24,{bold:1,color:'#333'}),
  T(26,470,'B',19,{bold:1,color:'#000'}),
  T(299,477,'5 mW/mm\u00b2',24,{bold:1,color:'#333'}),
  R(27,160,[['V',22],['m',14,1],[' (mV)',22]],{rot:ROT}),
  R(25,335,[['I',27],['ChR2',14,1],[' (pA/pF)',22]],{rot:ROT}),
  R(27,580,[['V',22],['m',14,1],[' (mV)',22]],{rot:ROT}),
  R(25,760,[['I',27],['ChR2',14,1],[' (pA/pF)',22]],{rot:ROT}),
  T(190,440,'Time (ms)',23), T(417,440,'Time (ms)',23),
  T(200,868,'Time (ms)',23), T(429,868,'Time (ms)',23),
  T(582,24,'C',19,{bold:1,color:'#000'}),
  T(754,22,'ATRIAL',27,{bold:1,color:'#333'}),
  T(981,22,'VENTRICULAR',27,{bold:1,color:'#333'}),
  T(1106,142,'0.1 mW/mm\u00b2',26,{bold:1,color:'#333',rot:ROT}),
  T(1106,362,'5 mW/mm\u00b2',26,{bold:1,color:'#333',rot:ROT}),
  T(585,287,'Duration (ms)',26,{rot:ROT}),
  T(883,512,'Delay (ms)',26),
  T(582,544,'D',19,{bold:1,color:'#000'}),
  T(928,546,'\u0394APD80 (%)',27,{bold:1,color:'#333',align:'left'}),
  R(713,625,[['V',27],['m',16,1],[' (mV)',27]],{bold:1,color:'#333'}),
  R(1022,625,[['I',27],['Kr',16,1],[' (pA/pF)',27]],{bold:1,color:'#333'}),
  T(721,871,'Time (ms)',27), T(1020,872,'Time (ms)',27),
  R(822,771,[['V',22],['m',14,1]],{})
];

const option = {
  animation:false,
  textStyle:{fontFamily:FONT},
  grid:G, xAxis:X, yAxis:Y, series:series, graphic:graphics,
  visualMap:[{type:'continuous',min:-13,max:85,seriesIndex:hmIdx,inRange:{color:cmap},orient:'horizontal',
    left:649,top:532,itemWidth:20,itemHeight:272,calculable:false,realtime:false,padding:0,show:true,hoverLink:false}],
  legend:{data:legendNames,orient:'vertical',left:392,top:737,itemWidth:27,itemHeight:6,itemGap:0,icon:'rect',
    padding:[2,3,2,3],borderColor:'#000',borderWidth:2,backgroundColor:'#fff',selectedMode:false,z:20,
    textStyle:{fontSize:13,lineHeight:13,color:'#111',fontFamily:FONT}}
};
const chart = echarts.init(document.getElementById('chart'), null, {renderer:'canvas'});
chart.setOption(option);
</script></body></html>
